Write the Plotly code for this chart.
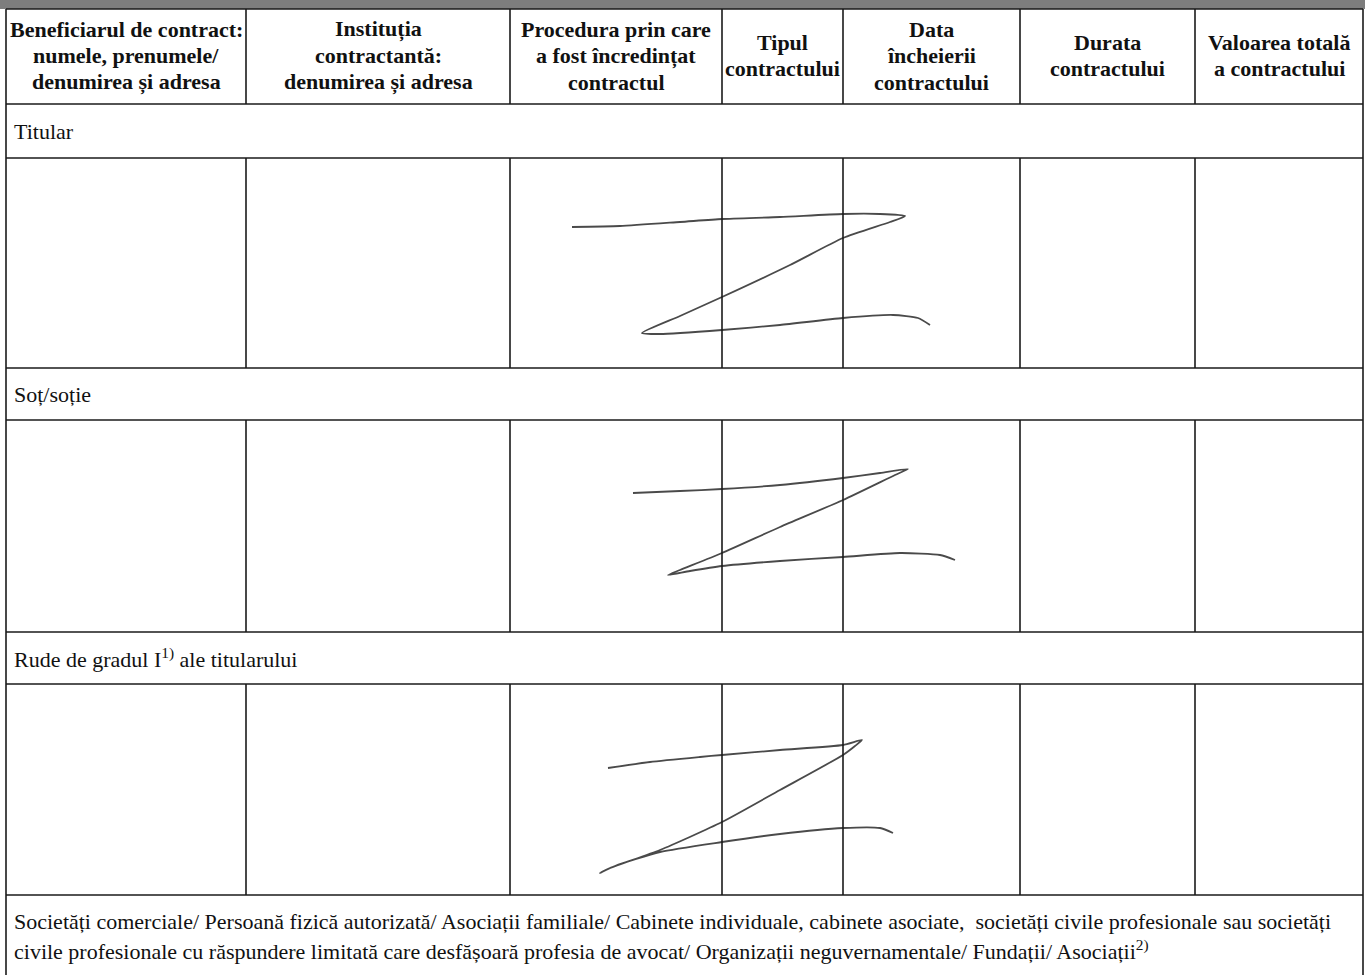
import plotly.graph_objects as go

W, H = 1365, 975

# Table structure
col_edges = [6, 246, 510, 722, 843, 1020, 1195, 1363]
header_top, header_bottom = 9, 104
sections = [  # (label row top, label row bottom / data top, data bottom)
    (104, 158, 368),
    (368, 420, 632),
    (632, 684, 895),
]
bottom_section_top = 895

header_lines = [
    ["Beneficiarul de contract:", "numele, prenumele/", "denumirea și adresa"],
    ["Instituția", "contractantă:", "denumirea și adresa"],
    ["Procedura prin care", "a fost încredințat", "contractul"],
    ["Tipul", "contractului"],
    ["Data", "încheierii", "contractului"],
    ["Durata", "contractului"],
    ["Valoarea totală", "a contractului"],
]

row_labels = ["Titular", "Soț/soție", "Rude de gradul I<sup>1)</sup> ale titularului"]

bottom_text = [
    "Societăți comerciale/ Persoană fizică autorizată/ Asociații familiale/ Cabinete individuale, cabinete asociate,  societăți civile profesionale sau societăți",
    "civile profesionale cu răspundere limitată care desfășoară profesia de avocat/ Organizații neguvernamentale/ Fundații/ Asociații<sup>2)</sup>",
]

# Signature strokes (scribbled "Z"), one per data row
sig1_x = [572, 620, 680, 722, 780, 843, 880, 905, 890, 843, 790, 722, 680, 642, 660, 722, 780, 843, 893, 918, 930]
sig1_y = [227, 226, 222, 219, 217, 214, 214, 216, 222, 238, 265, 297, 316, 333, 334, 330, 325, 318, 315, 318, 325]

sig2_x = [633, 680, 722, 780, 843, 880, 908, 895, 843, 780, 722, 680, 668, 690, 722, 780, 843, 900, 940, 955]
sig2_y = [493, 491, 489, 485, 478, 473, 469, 475, 500, 527, 553, 570, 575, 571, 566, 561, 557, 553, 555, 560]

sig3_x = [608, 650, 700, 722, 780, 843, 862, 855, 843, 780, 722, 660, 610, 600, 615, 660, 722, 780, 843, 880, 893]
sig3_y = [768, 762, 757, 755, 750, 745, 740, 746, 755, 790, 822, 850, 868, 873, 866, 852, 842, 834, 828, 828, 833]

signatures = [(sig1_x, sig1_y), (sig2_x, sig2_y), (sig3_x, sig3_y)]

fig = go.Figure()

line_col = "#1a1a1a"
lw = 1.6

shapes = []
# top gray band (scan header strip)
shapes.append(dict(type="rect", x0=0, x1=W, y0=0, y1=header_top, fillcolor="#7d7d7d", line=dict(width=0), layer="below"))
# outer horizontals
hlines = [header_top, header_bottom] + [s[1] for s in sections] + [s[2] for s in sections]
for y in hlines:
    shapes.append(dict(type="line", x0=col_edges[0], x1=col_edges[-1], y0=y, y1=y, line=dict(color=line_col, width=lw)))
# outer verticals
for x in (col_edges[0], col_edges[-1]):
    shapes.append(dict(type="line", x0=x, x1=x, y0=header_top, y1=H, line=dict(color=line_col, width=lw)))
# inner verticals: header and data rows
for x in col_edges[1:-1]:
    shapes.append(dict(type="line", x0=x, x1=x, y0=header_top, y1=header_bottom, line=dict(color=line_col, width=lw)))
    for (_, d0, d1) in sections:
        shapes.append(dict(type="line", x0=x, x1=x, y0=d0, y1=d1, line=dict(color=line_col, width=lw)))

annotations = []
hdr_font = dict(family="Liberation Serif, Times New Roman, serif", size=22, color="#111")
line_step = 26.5
header_mid = 55.5
for i, lines in enumerate(header_lines):
    cx = (col_edges[i] + col_edges[i + 1]) / 2
    n = len(lines)
    for j, t in enumerate(lines):
        y = header_mid + (j - (n - 1) / 2) * line_step
        annotations.append(dict(x=cx, y=y, text="<b>%s</b>" % t, showarrow=False, xanchor="center", yanchor="middle", font=hdr_font))

lab_font = dict(family="Liberation Serif, Times New Roman, serif", size=22, color="#111")
for (top, bot, _), lab in zip(sections, row_labels):
    annotations.append(dict(x=12, y=(top + bot) / 2, text=lab, showarrow=False, xanchor="left", yanchor="middle", font=lab_font))

bt_font = dict(family="Liberation Serif, Times New Roman, serif", size=22, color="#111")
for j, t in enumerate(bottom_text):
    annotations.append(dict(x=12, y=921 + j * 29, text=t, showarrow=False, xanchor="left", yanchor="middle", font=bt_font))

for sx, sy in signatures:
    fig.add_trace(go.Scatter(x=sx, y=sy, mode="lines", line=dict(color="#4a4a4a", width=1.8, shape="spline", smoothing=0.6), hoverinfo="skip", showlegend=False))

fig.update_layout(
    width=W, height=H,
    margin=dict(l=0, r=0, t=0, b=0),
    paper_bgcolor="white", plot_bgcolor="white",
    xaxis=dict(range=[0, W], visible=False, fixedrange=True),
    yaxis=dict(range=[H, 0], visible=False, fixedrange=True),
    shapes=shapes, annotations=annotations,
    showlegend=False,
)

fig.write_html("out.html", config={"displayModeBar": False},
               post_script="document.body.style.margin='0';document.body.style.overflow='hidden';")
